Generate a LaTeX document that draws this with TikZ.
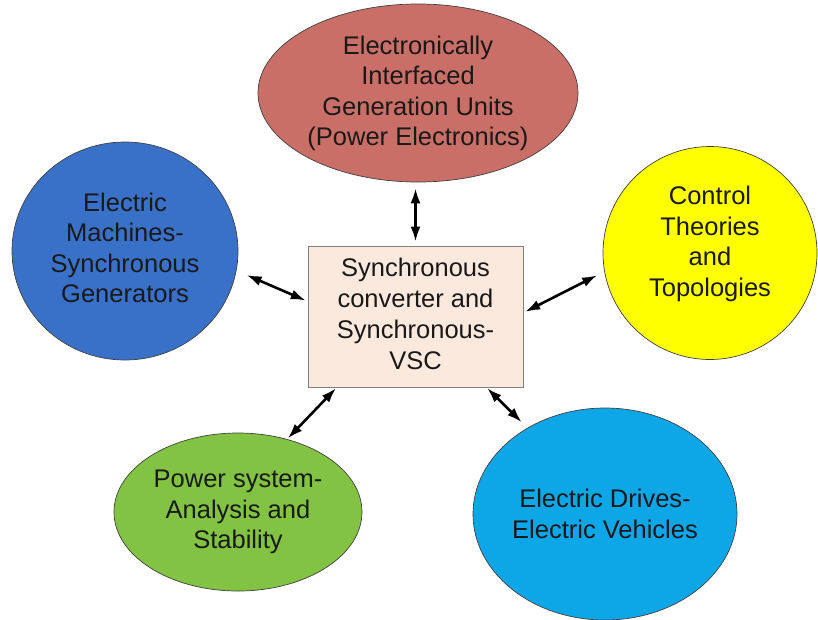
\documentclass[tikz,border=0pt]{standalone}
\usepackage{fontspec}
\setmainfont{Liberation Sans}
\usepackage{tikz}
\usetikzlibrary{arrows.meta, shapes.geometric}
\definecolor{kred}{HTML}{C96F68}
\definecolor{kblue}{HTML}{3A71C8}
\definecolor{kyellow}{HTML}{FFFF00}
\definecolor{kgreen}{HTML}{82C343}
\definecolor{kcyan}{HTML}{0DA6E6}
\definecolor{kpeach}{HTML}{FCE9DD}

\begin{document}
\begin{tikzpicture}[x=1pt, y=-1pt,
  bubble/.style={ellipse, draw=black!75, line width=0.7pt, inner sep=0pt,
    align=center, font=\fontsize{25.5}{30.5}\selectfont, text=black!90},
  link/.style={{Latex[length=15pt,width=10pt]}-{Latex[length=15pt,width=10pt]},
    line width=2.6pt}]
\useasboundingbox (0,0) rectangle (818,619);
% centre block
\node[draw=black!50, fill=kpeach, line width=0.8pt, minimum width=215, minimum height=141,
  inner sep=0pt, align=center, font=\fontsize{25.5}{31}\selectfont, text=black!90]
  (conv) at (415.5,316.5) {Synchronous\\converter and\\Synchronous-\\VSC\\[-25pt]\mbox{}};
% surrounding fields
\node[bubble, fill=kred, minimum width=320, minimum height=178]
  (gen) at (418,93) {Electronically\\Interfaced\\Generation Units\\(Power Electronics)\\[-26pt]\mbox{}};
\node[bubble, fill=kblue, minimum width=226, minimum height=218]
  (mach) at (125,251) {Electric\\Machines-\\Synchronous\\Generators\\[-24pt]\mbox{}};
\node[bubble, fill=kyellow, minimum width=214, minimum height=213]
  (ctrl) at (710,253) {Control\\Theories\\and\\Topologies\\[-7pt]\mbox{}};
\node[bubble, fill=kgreen, minimum width=248, minimum height=158]
  (psys) at (238,512) {Power system-\\Analysis and\\Stability};
\node[bubble, fill=kcyan, minimum width=264, minimum height=212]
  (drive) at (605,514) {Electric Drives-\\Electric Vehicles};
% links
\draw[link, shorten <=4pt, shorten >=6pt] (conv.north) -- (conv.north |- gen.south);
\draw[link, shorten <=2pt, shorten >=11pt] (conv.172) -- (mach.-10);
\draw[link, shorten <=2pt, shorten >=8pt] (conv.2) -- (ctrl.190);
\draw[link, shorten <=1pt, shorten >=1pt] (conv.222) -- (psys.56);
\draw[link, shorten <=1pt, shorten >=8pt] (conv.-45) -- (drive.132);
\end{tikzpicture}
\end{document}
